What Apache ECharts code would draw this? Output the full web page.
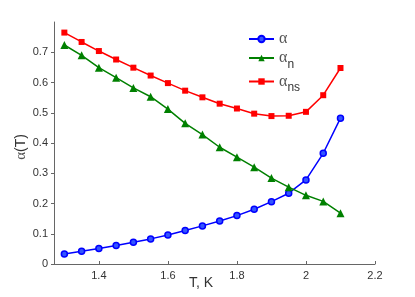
<!DOCTYPE html>
<html><head><meta charset="utf-8">
<script src="https://cdn.jsdelivr.net/npm/echarts@6/dist/echarts.min.js"></script>
<style>html,body{margin:0;padding:0;background:#fff}#c{width:415px;height:297px}</style>
</head><body><div id="c"></div>
<script>
const T = [1.3,1.35,1.4,1.45,1.5,1.55,1.6,1.65,1.7,1.75,1.8,1.85,1.9,1.95,2.0,2.05,2.1];
const alpha = [0.033,0.042,0.051,0.061,0.072,0.083,0.096,0.111,0.126,0.142,0.160,0.181,0.206,0.234,0.278,0.366,0.482];
const alphaN = [0.724,0.690,0.649,0.616,0.582,0.553,0.512,0.465,0.428,0.386,0.353,0.320,0.284,0.254,0.227,0.207,0.168];
const alphaNS = [0.765,0.734,0.704,0.676,0.649,0.623,0.598,0.573,0.551,0.530,0.514,0.497,0.489,0.490,0.503,0.558,0.648];
const xTicks = [1.4,1.6,1.8,2.0,2.2];
const yTicks = [0,0.1,0.2,0.3,0.4,0.5,0.6,0.7];
const pair = a => T.map((t,i)=>[t,a[i]]);
const chart = echarts.init(document.getElementById('c'));
const axisCol = '#666';
chart.setOption({
  animation:false,
  grid:{left:54,right:40,top:22,bottom:33},
  xAxis:{type:'value',min:1.27,max:2.2,
    axisLine:{lineStyle:{color:axisCol}},
    axisTick:{inside:true,length:3,customValues:xTicks,lineStyle:{color:axisCol}},
    axisLabel:{customValues:xTicks,color:'#333',fontSize:11,fontFamily:'Liberation Sans',margin:6,
      formatter:v=>String(+v.toFixed(1))},
    splitLine:{show:false}},
  yAxis:{type:'value',min:0,max:0.8,
    axisLine:{show:true,lineStyle:{color:axisCol}},
    axisTick:{show:true,length:3,customValues:yTicks,lineStyle:{color:axisCol}},
    axisLabel:{customValues:yTicks,color:'#333',fontSize:11,fontFamily:'Liberation Sans',margin:6,
      formatter:v=>String(+v.toFixed(1))},
    splitLine:{show:false}},
  legend:{orient:'vertical',left:243,top:26,itemWidth:25,itemHeight:8,itemGap:3,
    textStyle:{fontFamily:'Liberation Sans',fontSize:13,color:'#333',
      rich:{a:{fontFamily:'Liberation Serif',fontSize:16,color:'#555'},s:{fontFamily:'Liberation Sans',fontSize:12,color:'#333',padding:[13,0,0,0]}}},
    formatter:n=>n==='a'?'{a|α}':(n==='an'?'{a|α}{s|n}':'{a|α}{s|ns}')},
  graphic:[
    {type:'text',left:189,top:276,style:{text:'T, K',font:'14px Liberation Sans',fill:'#333'}},
    {type:'text',x:21,y:147,rotation:Math.PI/2,style:{text:'{a|α}(T)',font:'14px Liberation Sans',fill:'#333',align:'center',verticalAlign:'middle',
      rich:{a:{fontFamily:'Liberation Serif',fontSize:15,fill:'#555'}}}}
  ],
  series:[
    {name:'a',type:'line',data:pair(alpha),symbol:'circle',symbolSize:6,
      lineStyle:{color:'#0000ff',width:1.5},itemStyle:{color:'#3355ff',borderColor:'#0000ff',borderWidth:1.5}},
    {name:'an',type:'line',data:pair(alphaN),symbol:'triangle',symbolSize:8,
      lineStyle:{color:'#008000',width:1.5},itemStyle:{color:'#008000'}},
    {name:'ans',type:'line',data:pair(alphaNS),symbol:'rect',symbolSize:6,
      lineStyle:{color:'#ff0000',width:1.5},itemStyle:{color:'#ff0000'}}
  ]
});
</script></body></html>
